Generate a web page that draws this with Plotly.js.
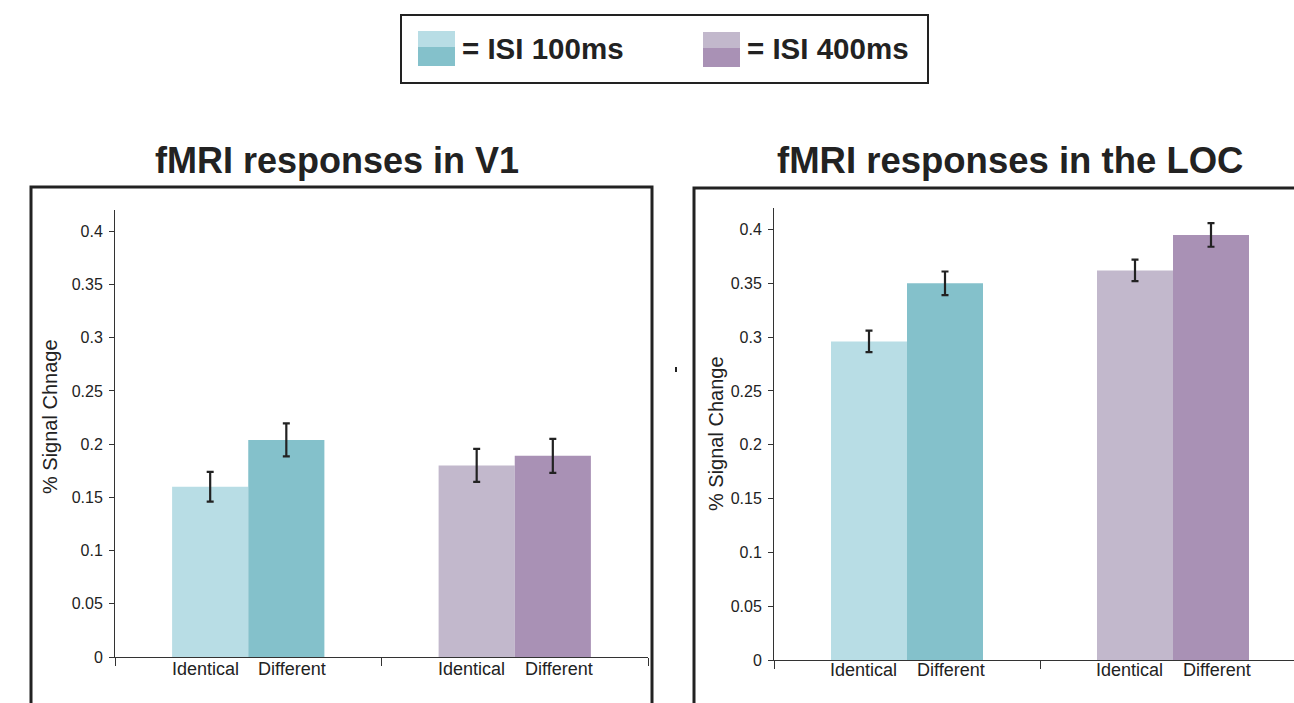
<!DOCTYPE html>
<html>
<head>
<meta charset="utf-8">
<script src="https://cdn.plot.ly/plotly-3.0.1.min.js"></script>
<style>
  html, body { margin: 0; padding: 0; background: #ffffff; }
  #chart { width: 1294px; height: 703px; }
</style>
</head>
<body>
<div id="chart"></div>
<script>
// ---- data ----
const groups = ['ISI 100ms', 'ISI 400ms'];
const conditionLabels = ['Identical', 'Different'];

const v1Identical = [0.160, 0.180];
const v1IdenticalErr = [0.014, 0.0155];
const v1Different = [0.204, 0.189];
const v1DifferentErr = [0.0155, 0.016];

const locIdentical = [0.296, 0.362];
const locIdenticalErr = [0.010, 0.010];
const locDifferent = [0.350, 0.395];
const locDifferentErr = [0.011, 0.011];

const yTickVals = [0, 0.05, 0.1, 0.15, 0.2, 0.25, 0.3, 0.35, 0.4];
const yTickText = ['0', '0.05', '0.1', '0.15', '0.2', '0.25', '0.3', '0.35', '0.4'];

const identicalColors = ['#b8dde5', '#c2b8cc'];
const differentColors = ['#84c1cb', '#a991b5'];

const panelTitles = ['fMRI responses in V1', 'fMRI responses in the LOC'];
const yTitles = ['% Signal Chnage', '% Signal Change'];
const legendTexts = ['= ISI 100ms', '= ISI 400ms'];

// ---- layout helpers ----
const W = 1294, H = 703;
const px = v => v / W;
const py = v => 1 - v / H;
const FONT = 'Liberation Sans, Arial, sans-serif';
const ink = '#222222';

function errBar(arr) {
  return { type: 'data', array: arr, visible: true, color: ink, thickness: 2.2, width: 3.5 };
}

const traces = [
  { type: 'bar', x: groups, y: v1Identical, name: 'Identical', marker: { color: identicalColors },
    error_y: errBar(v1IdenticalErr), xaxis: 'x', yaxis: 'y', showlegend: false, hoverinfo: 'y' },
  { type: 'bar', x: groups, y: v1Different, name: 'Different', marker: { color: differentColors },
    error_y: errBar(v1DifferentErr), xaxis: 'x', yaxis: 'y', showlegend: false, hoverinfo: 'y' },
  { type: 'bar', x: groups, y: locIdentical, name: 'Identical', marker: { color: identicalColors },
    error_y: errBar(locIdenticalErr), xaxis: 'x2', yaxis: 'y2', showlegend: false, hoverinfo: 'y' },
  { type: 'bar', x: groups, y: locDifferent, name: 'Different', marker: { color: differentColors },
    error_y: errBar(locDifferentErr), xaxis: 'x2', yaxis: 'y2', showlegend: false, hoverinfo: 'y' }
];

function xAxis(domain, range, anchor) {
  return {
    domain: domain, range: range, anchor: anchor, type: 'category',
    showline: true, linecolor: '#333', linewidth: 1,
    ticks: 'outside', ticklen: 8, tickcolor: '#333', tickwidth: 1,
    tickson: 'boundaries', showticklabels: false,
    showgrid: false, zeroline: false, fixedrange: true
  };
}
function yAxis(domain, anchor) {
  return {
    domain: domain, range: [0, 0.42], anchor: anchor,
    showline: true, linecolor: '#333', linewidth: 1,
    ticks: 'outside', ticklen: 5, tickcolor: '#333', tickwidth: 1,
    tickvals: yTickVals, ticktext: yTickText,
    tickfont: { family: FONT, size: 16, color: ink },
    ticklabelstandoff: 3,
    showgrid: false, zeroline: false, fixedrange: true
  };
}

const annotations = [];
// panel titles
annotations.push({ xref: 'paper', yref: 'paper', x: px(337), y: py(160), text: '<b>' + panelTitles[0] + '</b>',
  showarrow: false, xanchor: 'center', yanchor: 'middle', font: { family: FONT, size: 36, color: ink } });
annotations.push({ xref: 'paper', yref: 'paper', x: px(1010), y: py(160), text: '<b>' + panelTitles[1] + '</b>',
  showarrow: false, xanchor: 'center', yanchor: 'middle', font: { family: FONT, size: 36.5, color: ink } });

// y-axis titles
annotations.push({ xref: 'paper', yref: 'paper', x: px(50), y: py(417), text: yTitles[0], textangle: -90,
  showarrow: false, xanchor: 'center', yanchor: 'middle', font: { family: FONT, size: 20, color: ink } });
annotations.push({ xref: 'paper', yref: 'paper', x: px(716), y: py(434), text: yTitles[1], textangle: -90,
  showarrow: false, xanchor: 'center', yanchor: 'middle', font: { family: FONT, size: 20, color: ink } });

// condition labels under bars
const labelOffsets = [-0.162, 0.165];
[['x', 'y', 0], ['x2', 'y2', 2]].forEach(([xa, ya, ys]) => {
  groups.forEach((g, gi) => {
    conditionLabels.forEach((lab, li) => {
      annotations.push({ xref: xa, yref: ya, x: gi + labelOffsets[li], y: 0, text: lab,
        showarrow: false, xanchor: 'center', yanchor: 'top', yshift: ys,
        font: { family: FONT, size: 18, color: ink } });
    });
  });
});

// legend texts
annotations.push({ xref: 'paper', yref: 'paper', x: px(460), y: py(48), text: '<b>' + legendTexts[0] + '</b>',
  showarrow: false, xanchor: 'left', yanchor: 'middle', font: { family: FONT, size: 29.5, color: ink } });
annotations.push({ xref: 'paper', yref: 'paper', x: px(745), y: py(48), text: '<b>' + legendTexts[1] + '</b>',
  showarrow: false, xanchor: 'left', yanchor: 'middle', font: { family: FONT, size: 29.5, color: ink } });

const shapes = [
  // legend box
  { type: 'rect', xref: 'paper', yref: 'paper', x0: px(401), x1: px(928), y0: py(83), y1: py(15),
    line: { color: ink, width: 2 }, fillcolor: 'rgba(0,0,0,0)' },
  // legend swatches
  { type: 'rect', xref: 'paper', yref: 'paper', x0: px(418), x1: px(455), y0: py(47), y1: py(31),
    line: { width: 0 }, fillcolor: identicalColors[0] },
  { type: 'rect', xref: 'paper', yref: 'paper', x0: px(418), x1: px(455), y0: py(66), y1: py(47),
    line: { width: 0 }, fillcolor: differentColors[0] },
  { type: 'rect', xref: 'paper', yref: 'paper', x0: px(703), x1: px(740), y0: py(48), y1: py(32),
    line: { width: 0 }, fillcolor: identicalColors[1] },
  { type: 'rect', xref: 'paper', yref: 'paper', x0: px(703), x1: px(740), y0: py(67), y1: py(48),
    line: { width: 0 }, fillcolor: differentColors[1] },
  // panel frames
  { type: 'rect', xref: 'paper', yref: 'paper', x0: px(31), x1: px(652), y0: -0.05, y1: py(187),
    line: { color: ink, width: 3 }, fillcolor: 'rgba(0,0,0,0)' },
  { type: 'rect', xref: 'paper', yref: 'paper', x0: px(694), x1: 1.05, y0: -0.05, y1: py(188),
    line: { color: ink, width: 3 }, fillcolor: 'rgba(0,0,0,0)' },
  // small stray mark between panels
  { type: 'rect', xref: 'paper', yref: 'paper', x0: px(675), x1: px(677), y0: py(372), y1: py(367),
    line: { width: 0 }, fillcolor: ink }
];

const rightRangeEnd = -0.5 + 2 * (W - 774) / 532;

const layout = {
  width: W, height: H,
  margin: { l: 0, r: 0, t: 0, b: 0 },
  paper_bgcolor: '#ffffff', plot_bgcolor: 'rgba(0,0,0,0)',
  showlegend: false,
  barmode: 'group', bargap: 0.4286, bargroupgap: 0,
  font: { family: FONT, color: ink },
  xaxis: xAxis([px(115), px(648)], [-0.5, 1.5], 'y'),
  yaxis: yAxis([1 - 657 / H, 1 - 210 / H], 'x'),
  xaxis2: xAxis([px(774), 1], [-0.5, rightRangeEnd], 'y2'),
  yaxis2: yAxis([1 - 660 / H, 1 - 208 / H], 'x2'),
  annotations: annotations,
  shapes: shapes
};

Plotly.newPlot('chart', traces, layout, { displayModeBar: false, staticPlot: true });
</script>
</body>
</html>
